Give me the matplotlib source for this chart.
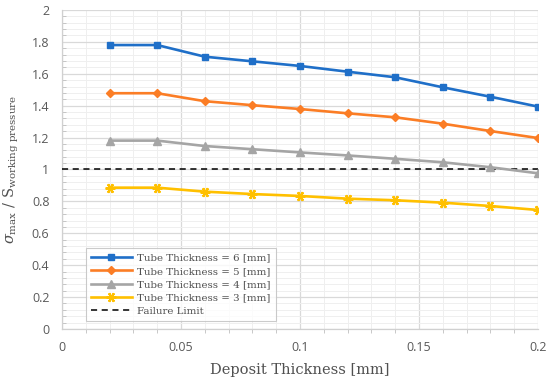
import matplotlib
matplotlib.use("Agg")
import matplotlib.pyplot as plt
from matplotlib.ticker import MultipleLocator, FuncFormatter

deposit = [0.02, 0.04, 0.06, 0.08, 0.10, 0.12, 0.14, 0.16, 0.18, 0.20]
t6 = [1.78, 1.78, 1.707, 1.678, 1.649, 1.613, 1.578, 1.515, 1.456, 1.394]
t5 = [1.478, 1.478, 1.428, 1.403, 1.379, 1.352, 1.327, 1.287, 1.241, 1.197]
t4 = [1.181, 1.181, 1.147, 1.127, 1.107, 1.088, 1.067, 1.045, 1.014, 0.976]
t3 = [0.886, 0.886, 0.861, 0.846, 0.834, 0.817, 0.807, 0.792, 0.771, 0.746]
failure_x = [0.0, 0.2]
failure_y = [1.0, 1.0]
labels = ["Tube Thickness = 6 [mm]", "Tube Thickness = 5 [mm]",
          "Tube Thickness = 4 [mm]", "Tube Thickness = 3 [mm]", "Failure Limit"]

plt.rcParams["mathtext.fontset"] = "dejavuserif"

fig = plt.figure(figsize=(5.5, 3.83), dpi=100)
ax = fig.add_axes([0.1127, 0.141, 0.8655, 0.833])

serif = "DejaVu Serif"
ax.plot(deposit, t6, color="#1f6fc8", lw=1.9, marker="s", ms=4.5, label=labels[0], zorder=5)
ax.plot(deposit, t5, color="#fb7d25", lw=1.9, marker="D", ms=4.2, label=labels[1], zorder=5)
ax.plot(deposit, t4, color="#a5a5a5", lw=1.9, marker="^", ms=5.5, label=labels[2], zorder=5)
ax.plot(deposit, t3, color="#ffc000", lw=1.9, marker=(6, 2, 90), ms=7, mew=1.6,
        label=labels[3], zorder=5)
ax.plot(failure_x, failure_y, color="black", lw=1.1, ls=(0, (4, 3)), label=labels[4], zorder=4)

ax.set_xlim(0, 0.2)
ax.set_ylim(0, 2)
ax.xaxis.set_major_locator(MultipleLocator(0.05))
ax.xaxis.set_minor_locator(MultipleLocator(0.01))
ax.yaxis.set_major_locator(MultipleLocator(0.2))
ax.yaxis.set_minor_locator(MultipleLocator(0.04))

def fmt(v, pos):
    s = f"{v:.2f}".rstrip("0").rstrip(".")
    return s
ax.xaxis.set_major_formatter(FuncFormatter(fmt))
ax.yaxis.set_major_formatter(FuncFormatter(fmt))

ax.grid(which="major", color="#d9d9d9", lw=0.9)
ax.grid(which="minor", color="#efefef", lw=0.7)
ax.set_axisbelow(True)
for s in ["top", "right"]:
    ax.spines[s].set_visible(False)
for s in ["left", "bottom"]:
    ax.spines[s].set_color("#d0d0d0")
    ax.spines[s].set_linewidth(0.9)

ax.tick_params(which="both", colors="#bfbfbf", labelcolor="#595959", labelsize=9)
ax.tick_params(axis="x", which="major", length=0, pad=9)
ax.tick_params(axis="x", which="minor", length=3, direction="out")
ax.tick_params(axis="y", which="major", length=0, pad=9)
ax.tick_params(axis="y", which="minor", length=3, direction="in")
for lab in ax.get_xticklabels() + ax.get_yticklabels():
    lab.set_fontfamily("Open Sans")

ax.set_xlabel("Deposit Thickness [mm]", family=serif, fontsize=10.5, color="#505050", labelpad=6)
ax.set_ylabel(r"$\sigma_{\mathrm{max}}$ / S$_{\mathrm{working\ pressure}}$", family=serif,
              fontsize=10.5, color="#505050", labelpad=8)

leg = ax.legend(loc="lower left", bbox_to_anchor=(0.05, 0.025), borderaxespad=0,
                prop={"family": serif, "size": 7.4},
                frameon=True, fancybox=False, edgecolor="#bfbfbf", handlelength=4.0,
                labelspacing=0.4, borderpad=0.5, handletextpad=0.5)
leg.get_frame().set_linewidth(0.8)
for t in leg.get_texts():
    t.set_color("#505050")

fig.savefig("out.png", dpi=100)
